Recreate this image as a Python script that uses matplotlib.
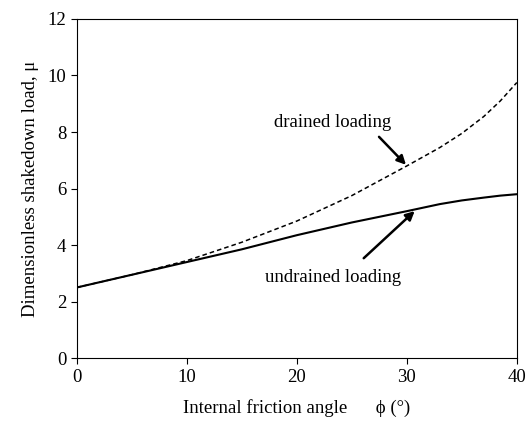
import matplotlib.pyplot as plt

plt.rcParams['font.family'] = ['Liberation Serif', 'DejaVu Serif']

# friction angle (deg) and shakedown load
phi = [0, 5, 10, 15, 20, 25, 30, 33, 35, 37, 38.5, 40]
drained = [2.5, 2.95, 3.45, 4.1, 4.85, 5.75, 6.8, 7.45, 7.95, 8.55, 9.1, 9.75]
undrained = [2.5, 2.95, 3.4, 3.85, 4.35, 4.8, 5.2, 5.45, 5.58, 5.68, 5.75, 5.8]

xticks = [0, 10, 20, 30, 40]
yticks = [0, 2, 4, 6, 8, 10, 12]

fig = plt.figure(figsize=(5.29, 4.30), dpi=100)
ax = fig.add_axes([0.145, 0.167, 0.832, 0.789])

ax.plot(phi, drained, color='black', linestyle=(0, (3, 2)), linewidth=1.1)
ax.plot(phi, undrained, color='black', linestyle='-', linewidth=1.5)

# labels and their arrows
arrow = dict(arrowstyle='-|>', color='black', lw=1.8, mutation_scale=13)
ax.text(23.3, 8.35, 'drained loading', fontsize=13.5, ha='center', va='center')
ax.annotate('', xy=(30.1, 6.77), xytext=(27.3, 7.9), arrowprops=arrow)
ax.text(23.3, 2.87, 'undrained loading', fontsize=13.5, ha='center', va='center')
ax.annotate('', xy=(30.9, 5.27), xytext=(25.9, 3.47), arrowprops=arrow)

ax.set_xlim(0, 40)
ax.set_ylim(0, 12)
ax.set_xticks(xticks)
ax.set_yticks(yticks)
ax.tick_params(direction='out', length=4, width=0.8, labelsize=13.5)
for s in ax.spines.values():
    s.set_linewidth(0.8)

ax.set_xlabel('Internal friction angle      \u03d5 (\u00b0)', fontsize=13.5, labelpad=10)
ax.set_ylabel('Dimensionless shakedown load, \u03bc', fontsize=13.5, labelpad=6)

fig.savefig('out.png', dpi=100)
